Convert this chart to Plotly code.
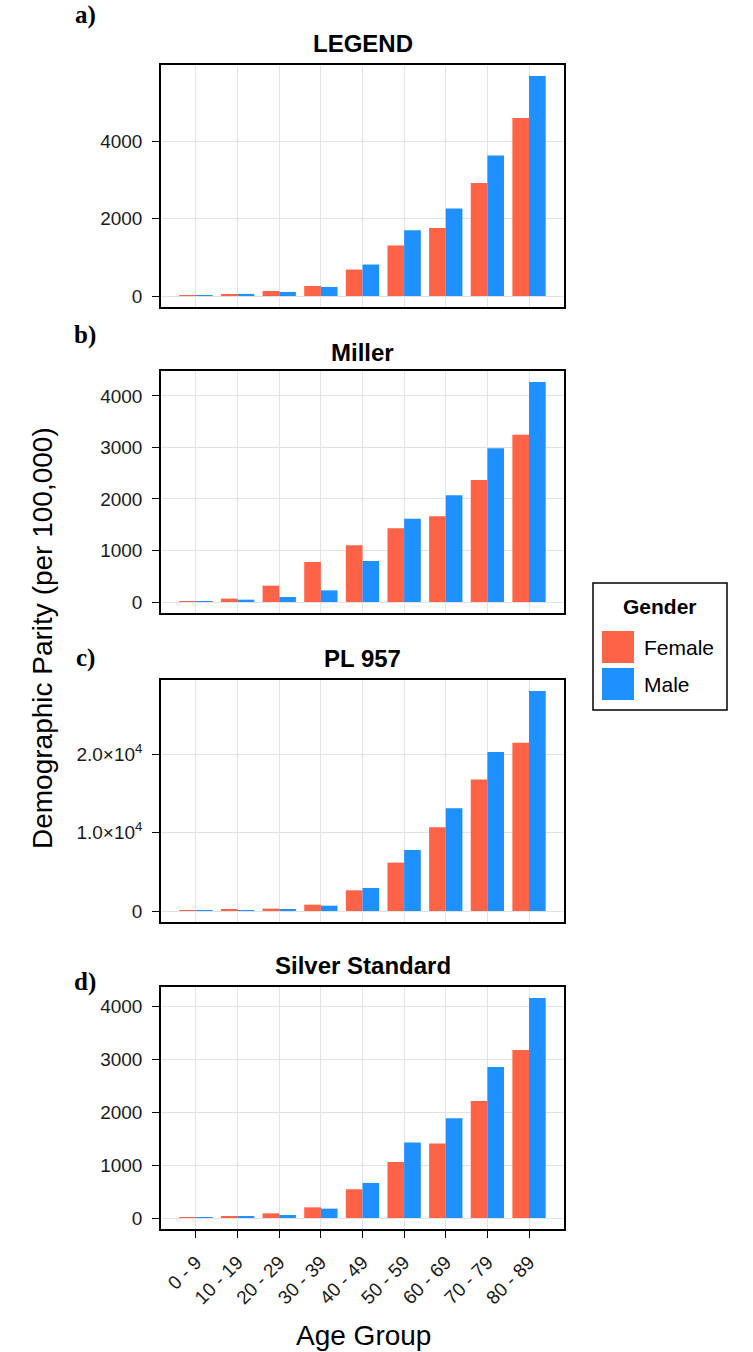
import plotly.graph_objects as go

W, H = 753, 1352

age_groups = ["0 - 9", "10 - 19", "20 - 29", "30 - 39", "40 - 49",
              "50 - 59", "60 - 69", "70 - 79", "80 - 89"]

panel_titles = ["LEGEND", "Miller", "PL 957", "Silver Standard"]
panel_letters = ["a)", "b)", "c)", "d)"]

legend_female = [20, 50, 130, 260, 685, 1310, 1760, 2930, 4610]
legend_male = [20, 55, 105, 235, 815, 1705, 2270, 3640, 5700]

miller_female = [10, 65, 317, 776, 1100, 1430, 1663, 2368, 3248]
miller_male = [10, 45, 97, 226, 796, 1618, 2070, 2983, 4270]

pl957_female = [40, 130, 300, 810, 2650, 6190, 10720, 16820, 21520]
pl957_male = [40, 90, 215, 680, 2950, 7815, 13150, 20330, 28140]

silver_female = [12, 38, 88, 202, 543, 1060, 1407, 2209, 3174]
silver_male = [8, 32, 57, 177, 663, 1426, 1887, 2852, 4158]

female_series = [legend_female, miller_female, pl957_female, silver_female]
male_series = [legend_male, miller_male, pl957_male, silver_male]

y_tickvals = [[0, 2000, 4000],
              [0, 1000, 2000, 3000, 4000],
              [0, 10000, 20000],
              [0, 1000, 2000, 3000, 4000]]
y_ticktext = [["0", "2000", "4000"],
              ["0", "1000", "2000", "3000", "4000"],
              ["0", "1.0×10<sup>4</sup>", "2.0×10<sup>4</sup>"],
              ["0", "1000", "2000", "3000", "4000"]]

FEMALE_COLOR = "#FF6347"
MALE_COLOR = "#1E90FF"

# layout in pixels
plot_left, plot_right = 161, 564
panel_px = [(65, 307), (371, 613), (680, 922), (987, 1229)]
title_y_px = [43, 352, 658, 965]
letter_y_px = [15, 335, 658, 982]


def px_x(x):
    return x / W


def px_y(y):
    return 1 - y / H


fig = go.Figure()
tick_font = dict(family="Liberation Sans, Arial, sans-serif", size=19, color="#1a1a1a")

for i in range(4):
    ax = "" if i == 0 else str(i + 1)
    fig.add_trace(go.Bar(x=age_groups, y=female_series[i], name="Female",
                         marker=dict(color=FEMALE_COLOR, line=dict(width=0)),
                         xaxis="x" + ax, yaxis="y" + ax, showlegend=False))
    fig.add_trace(go.Bar(x=age_groups, y=male_series[i], name="Male",
                         marker=dict(color=MALE_COLOR, line=dict(width=0)),
                         xaxis="x" + ax, yaxis="y" + ax, showlegend=False))
    ymax = max(max(female_series[i]), max(male_series[i]))
    top, bot = panel_px[i]
    last = (i == 3)
    fig.layout["xaxis" + ax] = dict(
        domain=[px_x(plot_left), px_x(plot_right)],
        anchor="y" + ax,
        type="category",
        categoryorder="array", categoryarray=age_groups,
        range=[-0.84, 8.84],
        showgrid=True, gridcolor="#e3e3e3", gridwidth=1,
        showline=True, mirror=True, linecolor="black", linewidth=1.5,
        ticks="outside" if last else "", ticklen=7, tickwidth=1.3, tickcolor="black",
        showticklabels=last, tickangle=-45, tickfont=tick_font,
        ticklabelstandoff=6,
        zeroline=False, fixedrange=True,
    )
    fig.layout["yaxis" + ax] = dict(
        domain=[px_y(bot), px_y(top)],
        anchor="x" + ax,
        range=[-0.05 * ymax, 1.05 * ymax],
        tickvals=y_tickvals[i], ticktext=y_ticktext[i],
        showgrid=True, gridcolor="#e3e3e3", gridwidth=1,
        showline=True, mirror=True, linecolor="black", linewidth=1.5,
        ticks="outside", ticklen=7, tickwidth=1.3, tickcolor="black",
        tickfont=tick_font, ticklabelstandoff=6,
        zeroline=False, fixedrange=True,
    )

annotations = []
for i in range(4):
    annotations.append(dict(
        text="<b>" + panel_titles[i] + "</b>", x=px_x((plot_left + plot_right) / 2),
        y=px_y(title_y_px[i]), xref="paper", yref="paper", showarrow=False,
        xanchor="center", yanchor="middle",
        font=dict(family="Liberation Sans, Arial, sans-serif", size=24, color="black")))
    annotations.append(dict(
        text="<b>" + panel_letters[i] + "</b>", x=px_x(85), y=px_y(letter_y_px[i]),
        xref="paper", yref="paper", showarrow=False, xanchor="center", yanchor="middle",
        font=dict(family="Liberation Serif, DejaVu Serif, serif", size=25, color="black")))

annotations.append(dict(
    text="Demographic Parity (per 100,000)", x=px_x(42), y=px_y(638),
    xref="paper", yref="paper", showarrow=False, textangle=-90,
    xanchor="center", yanchor="middle",
    font=dict(family="Liberation Sans, Arial, sans-serif", size=28, color="black")))
annotations.append(dict(
    text="Age Group", x=px_x(363), y=px_y(1335),
    xref="paper", yref="paper", showarrow=False,
    xanchor="center", yanchor="middle",
    font=dict(family="Liberation Sans, Arial, sans-serif", size=28, color="black")))

# manual legend
annotations.append(dict(
    text="<b>Gender</b>", x=px_x(660), y=px_y(606), xref="paper", yref="paper",
    showarrow=False, xanchor="center", yanchor="middle",
    font=dict(family="Liberation Sans, Arial, sans-serif", size=21, color="black")))
annotations.append(dict(
    text="Female", x=px_x(642), y=px_y(647), xref="paper", yref="paper",
    showarrow=False, xanchor="left", yanchor="middle",
    font=dict(family="Liberation Sans, Arial, sans-serif", size=21, color="black")))
annotations.append(dict(
    text="Male", x=px_x(642), y=px_y(684), xref="paper", yref="paper",
    showarrow=False, xanchor="left", yanchor="middle",
    font=dict(family="Liberation Sans, Arial, sans-serif", size=21, color="black")))

shapes = [
    dict(type="rect", xref="paper", yref="paper",
         x0=px_x(593), x1=px_x(727), y0=px_y(710), y1=px_y(583),
         line=dict(color="black", width=1.5), fillcolor="white", layer="below"),
    dict(type="rect", xref="paper", yref="paper",
         x0=px_x(602), x1=px_x(634), y0=px_y(663), y1=px_y(631),
         line=dict(width=0), fillcolor=FEMALE_COLOR),
    dict(type="rect", xref="paper", yref="paper",
         x0=px_x(602), x1=px_x(634), y0=px_y(700), y1=px_y(668),
         line=dict(width=0), fillcolor=MALE_COLOR),
]

fig.update_layout(
    width=W, height=H,
    margin=dict(l=0, r=0, t=0, b=0, autoexpand=False),
    paper_bgcolor="white", plot_bgcolor="white",
    barmode="group", bargap=0.2, bargroupgap=0.0,
    annotations=annotations, shapes=shapes,
    showlegend=False,
)

fig.write_html("out.html", config={"displayModeBar": False},
               post_script="document.body.style.margin='0';document.body.style.padding='0';")
